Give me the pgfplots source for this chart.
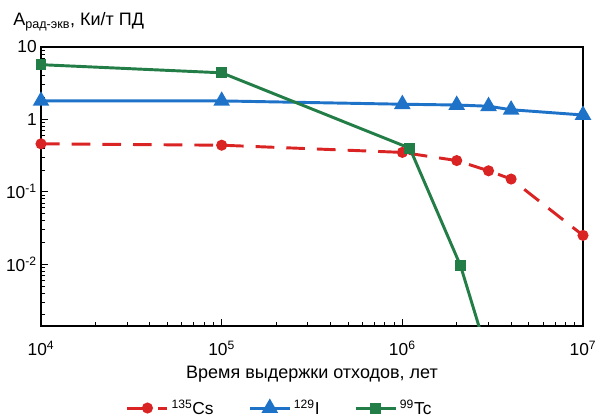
\documentclass[border=0pt]{standalone}
\usepackage{pgfplots}
\pgfplotsset{compat=1.18}
\usepackage{fontspec}
\setmainfont{Liberation Sans}
\definecolor{cred}{RGB}{218,35,35}
\definecolor{cblue}{RGB}{30,115,200}
\definecolor{cgreen}{RGB}{35,125,70}
\begin{document}
\begin{tikzpicture}[x=1pt,y=1pt]
\useasboundingbox (-30.75pt,-69.75pt) rectangle (419.25pt,244.5pt);
\begin{axis}[
  at={(0,0)}, anchor=south west,
  scale only axis, width=406.5pt, height=209.25pt,
  xmode=log, ymode=log,
  xmin=1e4, xmax=1e7, ymin=1.4e-3, ymax=10,
  tick pos=left, tick align=inside,
  axis line style={line width=1pt},
  major tick style={line width=0.8pt, black}, minor tick style={line width=0.6pt, black},
  major tick length=5pt, minor tick length=3pt,
  xtick={1e4,1e5,1e6,1e7},
  minor xtick={2e4,3e4,4e4,5e4,6e4,7e4,8e4,9e4,2e5,3e5,4e5,5e5,6e5,7e5,8e5,9e5,2e6,3e6,4e6,5e6,6e6,7e6,8e6,9e6},
  xticklabels={10\textsuperscript{4},10\textsuperscript{5},10\textsuperscript{6},10\textsuperscript{7}},
  ytick={1e-2,1e-1,1,10},
  minor ytick={2e-3,3e-3,4e-3,5e-3,6e-3,7e-3,8e-3,9e-3,2e-2,3e-2,4e-2,5e-2,6e-2,7e-2,8e-2,9e-2,0.2,0.3,0.4,0.5,0.6,0.7,0.8,0.9,2,3,4,5,6,7,8,9},
  yticklabels={10\textsuperscript{-2},10\textsuperscript{-1},1,10},
  ticklabel style={font=\fontsize{13}{15}\selectfont},
  xticklabel style={yshift=-8pt},
  yticklabel style={xshift=-2pt, inner sep=1pt},
  xlabel={Время выдержки отходов, лет},
  xlabel style={font=\fontsize{13.5}{15}\selectfont, at={(axis description cs:0.5,-0.172)}, anchor=center},
  legend columns=3,
  legend style={draw=none, at={(axis description cs:0.441,-0.294)}, anchor=center,
    font=\fontsize{13}{15}\selectfont, /tikz/every even column/.append style={column sep=24pt}},
  legend image code/.code={\draw[#1] (0pt,0pt) -- (30pt,0pt); \draw[#1] plot coordinates {(15pt,0pt)};},
  clip=true,
]
\addplot[cred, line width=2.2pt, dash pattern=on 14pt off 9pt, mark=*, mark size=3pt, mark options={solid}]
  coordinates {(1e4,0.46) (1e5,0.44) (1e6,0.35) (2e6,0.27) (3e6,0.195) (4e6,0.15) (1e7,0.025)};
\addlegendentry{\textsuperscript{135}Cs\hspace{26pt}}
\addplot[cblue, line width=2.2pt, mark=triangle*, mark size=5pt]
  coordinates {(1e4,1.8) (1e5,1.8) (1e6,1.62) (2e6,1.58) (3e6,1.52) (4e6,1.36) (1e7,1.15)};
\addlegendentry{\textsuperscript{129}I}
\addplot[cgreen, line width=2.2pt, mark=square*, mark size=3pt, mark indices={1,2,3,4}]
  coordinates {(1e4,5.7) (1e5,4.4) (1.1e6,0.40) (2.1e6,0.0095) (3.2e6,0.0003)};
\addlegendentry{\textsuperscript{99}Tc}
\end{axis}
\node[anchor=west, font=\fontsize{13.5}{16}\selectfont, inner sep=0pt] at (-21pt,228pt) {А\textsubscript{рад-экв}, Ки/т ПД};
\end{tikzpicture}
\end{document}
